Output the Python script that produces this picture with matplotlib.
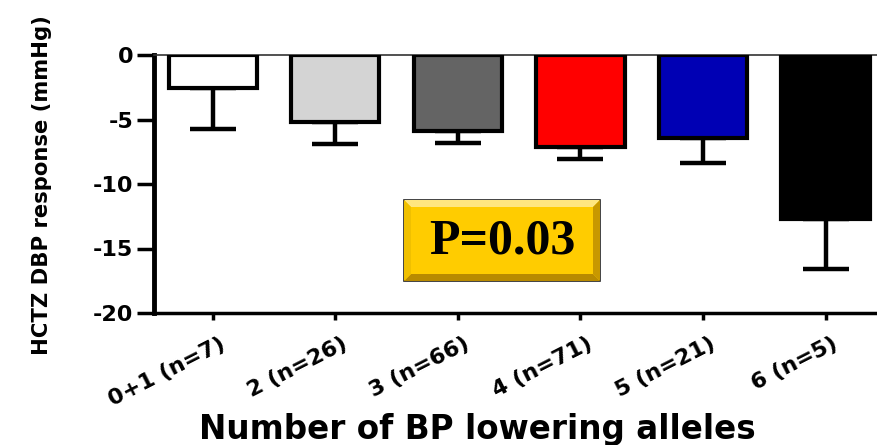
import matplotlib
matplotlib.use("Agg")
import matplotlib.pyplot as plt
from matplotlib.patches import Polygon, Rectangle
from matplotlib.transforms import ScaledTranslation

categories = ["0+1 (n=7)", "2 (n=26)", "3 (n=66)", "4 (n=71)", "5 (n=21)", "6 (n=5)"]
means = [-2.55, -5.2, -5.9, -7.1, -6.4, -12.7]
errors = [3.15, 1.7, 0.9, 1.0, 2.0, 3.9]
colors = ["#ffffff", "#d4d4d4", "#646464", "#ff0000", "#0000b4", "#000000"]
y_ticks = [0, -5, -10, -15, -20]
p_text = "P=0.03"

SANS = "DejaVu Sans"
W, H = 877, 445
fig = plt.figure(figsize=(W / 100, H / 100), dpi=100)
fig.patch.set_facecolor("white")
ax = fig.add_axes([154 / W, (H - 313) / H, (W - 154) / W, (313 - 55) / H])

x = list(range(len(categories)))
ax.bar(x, means, width=0.72, color=colors, edgecolor="black", linewidth=3, zorder=3)
ax.errorbar(x, means, yerr=[errors, [0] * len(errors)], fmt="none", ecolor="black",
            elinewidth=3.2, capsize=16.5, capthick=3.2, zorder=2)

ax.set_xlim(-0.48, 5.42)
ax.set_ylim(-20, 0)
ax.set_yticks(y_ticks)
ax.set_yticklabels([str(v) for v in y_ticks], fontsize=16, fontweight="bold", family=SANS)
ax.set_xticks(x)
ax.set_xticklabels([])
lab_tr = ax.get_xaxis_transform() + ScaledTranslation(6 / 100, -21 / 100, fig.dpi_scale_trans)
for xi, cat in zip(x, categories):
    ax.text(xi, 0, cat, transform=lab_tr, rotation=27, ha="right", va="top",
            rotation_mode="anchor", fontsize=16, fontweight="bold", family=SANS,
            clip_on=False)

ax.spines["right"].set_visible(False)
ax.spines["top"].set_linewidth(1.2)
ax.spines["top"].set_color("#333333")
ax.spines["left"].set_linewidth(3.5)
ax.spines["bottom"].set_linewidth(2.5)
ax.tick_params(axis="y", length=12, width=2.5, pad=3)
ax.tick_params(axis="x", length=5, width=2.5, pad=0)

fig.text(42 / W, 1 - 185 / H, "HCTZ DBP response (mmHg)", rotation=90, fontsize=15.2,
         fontweight="bold", family=SANS, ha="center", va="center")
fig.text(477 / W, 1 - 430 / H, "Number of BP lowering alleles", fontsize=23.5,
         fontweight="bold", family=SANS, ha="center", va="center")

# P-value box with bevel
x0, x1, y0, y1 = 404, 600, 200, 281
b = 7
def fx(px): return px / W
def fy(py): return 1 - py / H
outer = Rectangle((fx(x0), fy(y1)), fx(x1) - fx(x0), fy(y0) - fy(y1),
                  transform=fig.transFigure, facecolor="#ffcc00", edgecolor="#222222",
                  linewidth=1.2, zorder=5)
fig.add_artist(outer)
bevels = [
    ([(x0, y0), (x1, y0), (x1 - b, y0 + b), (x0 + b, y0 + b)], "#ffe680"),
    ([(x0, y1), (x1, y1), (x1 - b, y1 - b), (x0 + b, y1 - b)], "#b88a00"),
    ([(x0, y0), (x0 + b, y0 + b), (x0 + b, y1 - b), (x0, y1)], "#f0c000"),
    ([(x1, y0), (x1 - b, y0 + b), (x1 - b, y1 - b), (x1, y1)], "#c89800"),
]
for pts, c in bevels:
    fig.add_artist(Polygon([(fx(px), fy(py)) for px, py in pts], closed=True,
                           transform=fig.transFigure, facecolor=c, edgecolor="none",
                           zorder=6))
fig.text(fx((x0 + x1) / 2), fy((y0 + y1) / 2 + 1), p_text, fontsize=36,
         fontweight="bold", family="Liberation Serif", ha="center", va="center",
         zorder=7)

fig.savefig("out.png", dpi=100)
